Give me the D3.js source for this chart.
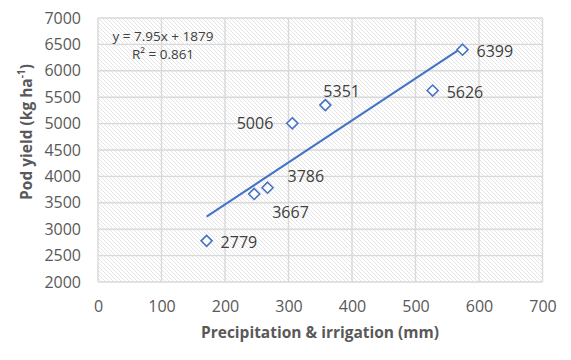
<!DOCTYPE html>
<html><head><meta charset="utf-8">
<script src="https://cdn.jsdelivr.net/npm/d3@7"></script>
<style>body{margin:0;background:#fff}svg{display:block}</style>
</head><body>
<svg id="c" width="571" height="360"></svg>
<script>
const water = [171, 246, 267, 306, 358, 527, 574];
const yieldVals = [2779, 3667, 3786, 5006, 5351, 5626, 6399];
const labelPos = ["right", "belowRight", "aboveRight", "left", "aboveStart", "right", "right"];
const xTicks = [0, 100, 200, 300, 400, 500, 600, 700];
const yTicks = [2000, 2500, 3000, 3500, 4000, 4500, 5000, 5500, 6000, 6500, 7000];
const slope = 7.95, intercept = 1879;
const eqText = "y = 7.95x + 1879";
const r2Text = "R² = 0.861";

const svg = d3.select("#c");
const m = {l: 98, r: 542.5, t: 18, b: 282};
const x = d3.scaleLinear().domain([0, 700]).range([m.l, m.r]);
const y = d3.scaleLinear().domain([2000, 7000]).range([m.b, m.t]);
const font = "'Open Sans', sans-serif";
const textCol = "#595959";

const defs = svg.append("defs");
const pat = defs.append("pattern").attr("id", "hatch").attr("patternUnits", "userSpaceOnUse")
  .attr("width", 4).attr("height", 4);
pat.append("rect").attr("width", 4).attr("height", 4).attr("fill", "#fff");
pat.append("path").attr("d", "M-1,-1 L5,5 M-1,3 L1,5 M3,-1 L5,1")
  .attr("stroke", "#e2e2e2").attr("stroke-width", 0.9);

svg.append("rect").attr("x", m.l).attr("y", m.t).attr("width", m.r - m.l).attr("height", m.b - m.t)
  .attr("fill", "url(#hatch)");

// grid
const grid = svg.append("g").attr("stroke", "#d9d9d9").attr("stroke-width", 1.4);
xTicks.forEach(t => grid.append("line").attr("x1", x(t)).attr("x2", x(t)).attr("y1", m.t).attr("y2", m.b));
yTicks.forEach(t => grid.append("line").attr("y1", y(t)).attr("y2", y(t)).attr("x1", m.l).attr("x2", m.r));

// axes labels
const xAxis = d3.axisBottom(x).tickValues(xTicks).tickFormat(d3.format("d")).tickSize(0).tickPadding(19);
const gx = svg.append("g").attr("transform", `translate(0,${m.b})`).call(xAxis);
gx.select(".domain").remove();
gx.selectAll("text").attr("font-family", font).attr("font-size", 16).attr("fill", textCol);

const yAxis = d3.axisLeft(y).tickValues(yTicks).tickFormat(d3.format("d")).tickSize(0).tickPadding(17);
const gy = svg.append("g").attr("transform", `translate(${m.l},0)`).call(yAxis);
gy.select(".domain").remove();
gy.selectAll("text").attr("font-family", font).attr("font-size", 16).attr("fill", textCol);

// titles
svg.append("text").attr("x", 320).attr("y", 338).attr("text-anchor", "middle")
  .attr("font-family", font).attr("font-size", 15.5).attr("font-weight", "bold").attr("fill", textCol)
  .text("Precipitation & irrigation (mm)");
const yt = svg.append("text").attr("transform", "translate(32,132) rotate(-90)").attr("text-anchor", "middle")
  .attr("font-family", font).attr("font-size", 15.5).attr("font-weight", "bold").attr("fill", textCol);
yt.append("tspan").text("Pod yield (kg ha");
yt.append("tspan").attr("baseline-shift", "super").attr("font-size", 10).text("-1");
yt.append("tspan").text(")");

// trendline
const xmin = d3.min(water), xmax = d3.max(water);
svg.append("line").attr("x1", x(xmin)).attr("y1", y(slope * xmin + intercept))
  .attr("x2", x(xmax)).attr("y2", y(slope * xmax + intercept))
  .attr("stroke", "#4472C4").attr("stroke-width", 2);

// markers
const pts = water.map((w, i) => ({w, v: yieldVals[i], p: labelPos[i]}));
svg.append("g").selectAll("path").data(pts).join("path")
  .attr("transform", d => `translate(${x(d.w)},${y(d.v)})`)
  .attr("d", "M0,-5.5 L5.5,0 L0,5.5 L-5.5,0 Z")
  .attr("fill", "#fff").attr("stroke", "#4472C4").attr("stroke-width", 1.6);

// data labels
const off = {
  right: [14, 7, "start"], left: [-19, 6, "end"], aboveStart: [-2, -8, "start"],
  aboveRight: [20, -6, "start"], belowRight: [18, 24, "start"]
};
svg.append("g").selectAll("text").data(pts).join("text")
  .attr("x", d => x(d.w) + off[d.p][0]).attr("y", d => y(d.v) + off[d.p][1])
  .attr("text-anchor", d => off[d.p][2])
  .attr("font-family", font).attr("font-size", 16).attr("fill", "#404040")
  .text(d => d.v);

// equation
svg.append("text").attr("x", 163).attr("y", 41).attr("text-anchor", "middle")
  .attr("font-family", font).attr("font-size", 13.5).attr("fill", "#404040").text(eqText);
svg.append("text").attr("x", 163).attr("y", 59).attr("text-anchor", "middle")
  .attr("font-family", font).attr("font-size", 13.5).attr("fill", "#404040").text(r2Text);
</script>
</body></html>
